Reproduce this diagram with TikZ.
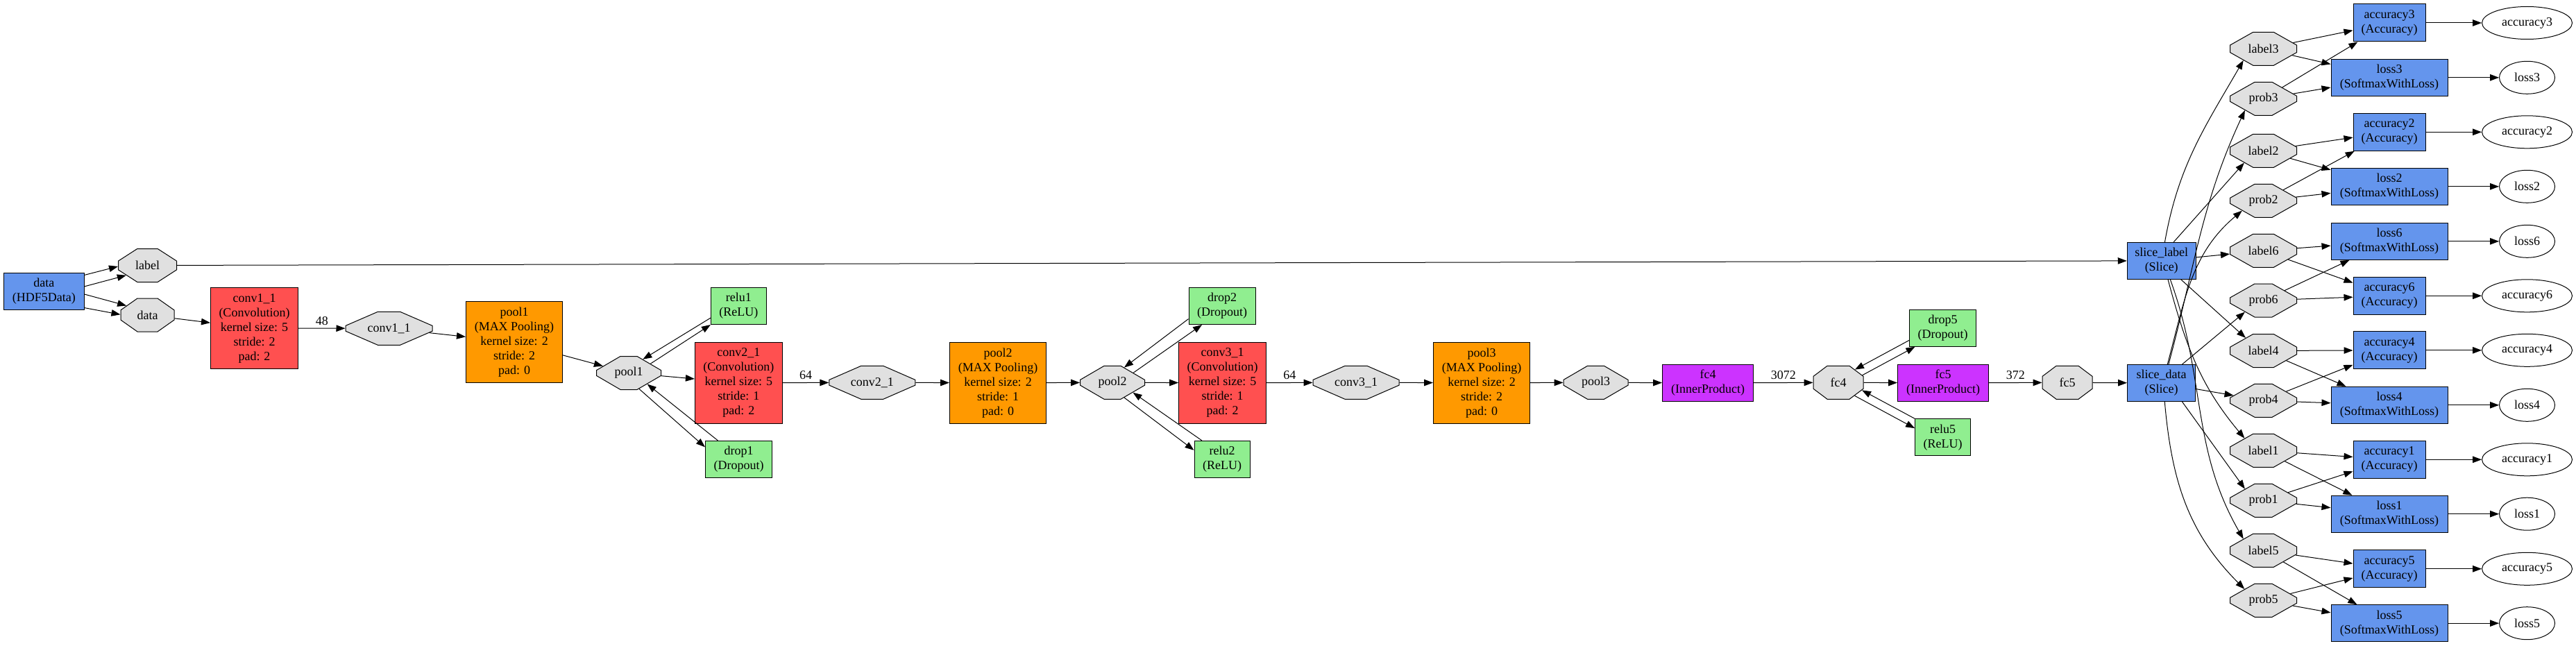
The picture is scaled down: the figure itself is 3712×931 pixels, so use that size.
\documentclass[tikz,border=0pt]{standalone}
\usepackage{fontspec}
\setmainfont{Liberation Serif}
\usetikzlibrary{arrows.meta,shapes.misc,shapes.geometric}

\definecolor{slicecol}{HTML}{6495ED}
\definecolor{convcol}{HTML}{FF5050}
\definecolor{poolcol}{HTML}{FF9900}
\definecolor{neuroncol}{HTML}{90EE90}
\definecolor{ipcol}{HTML}{CC33FF}
\definecolor{blobcol}{HTML}{E0E0E0}

\begin{document}
\begin{tikzpicture}[
  x=1pt, y=-1pt,
  line width=1pt,
  font=\fontsize{18}{21}\selectfont,
  >={Triangle[length=13pt,width=9.5pt]},
  lyr/.style={draw, rectangle, align=center, inner xsep=11pt, inner ysep=0pt, minimum height=53pt},
  bluelyr/.style={lyr, fill=slicecol},
  acclyr/.style={bluelyr, minimum width=104pt, minimum height=54pt},
  losslyr/.style={bluelyr, minimum width=168pt},
  convlyr/.style={lyr, fill=convcol, minimum width=126pt, minimum height=117pt},
  poollyr/.style={lyr, fill=poolcol, minimum width=139pt, minimum height=117pt},
  relulyr/.style={lyr, fill=neuroncol, minimum width=80pt},
  droplyr/.style={lyr, fill=neuroncol, minimum width=96pt},
  iplyr/.style={lyr, fill=ipcol, minimum width=131pt},
  blobnode/.style={chamfered rectangle, draw, fill=blobcol, inner sep=0pt,
    minimum width=#1pt, minimum height=48pt,
    chamfered rectangle xsep=0.24*#1pt, chamfered rectangle ysep=13pt,
    chamfered rectangle angle={atan(0.24*#1/13)}},
  blobnode/.default=96,
  outblob/.style={ellipse, draw, inner sep=0pt, minimum height=47pt, minimum width=#1pt},
  outblob/.default=130
]
\useasboundingbox (0,0) rectangle (3712,931);

% input
\node[bluelyr, minimum width=116pt] (data) at (63.4,420) {data\\(HDF5Data)};
\node[blobnode=84] (label_blob) at (212.5,382.5) {label};
\node[blobnode=77] (data_blob) at (212.5,454) {data};

% feature layers
\node[convlyr] (conv1_1) at (366.5,473) {conv1\_1\\(Convolution)\\kernel size: 5\\stride: 2\\pad: 2};
\node[blobnode=125] (conv1_1_blob) at (560.5,473.3) {conv1\_1};
\node[poollyr] (pool1) at (741,493) {pool1\\(MAX Pooling)\\kernel size: 2\\stride: 2\\pad: 0};
\node[blobnode=93] (pool1_blob) at (906,537.5) {pool1};
\node[relulyr] (relu1) at (1064.4,441) {relu1\\(ReLU)};
\node[convlyr] (conv2_1) at (1064.4,551.7) {conv2\_1\\(Convolution)\\kernel size: 5\\stride: 1\\pad: 2};
\node[droplyr] (drop1) at (1064.5,662) {drop1\\(Dropout)};
\node[blobnode=124] (conv2_1_blob) at (1256.8,551.3) {conv2\_1};
\node[poollyr] (pool2) at (1438,551.7) {pool2\\(MAX Pooling)\\kernel size: 2\\stride: 1\\pad: 0};
\node[blobnode=93] (pool2_blob) at (1603,551.3) {pool2};
\node[droplyr] (drop2) at (1761,441) {drop2\\(Dropout)};
\node[convlyr] (conv3_1) at (1761.7,551.7) {conv3\_1\\(Convolution)\\kernel size: 5\\stride: 1\\pad: 2};
\node[relulyr] (relu2) at (1761,662) {relu2\\(ReLU)};
\node[blobnode=124] (conv3_1_blob) at (1954,551.3) {conv3\_1};
\node[poollyr] (pool3) at (2135,551.7) {pool3\\(MAX Pooling)\\kernel size: 2\\stride: 2\\pad: 0};
\node[blobnode=93] (pool3_blob) at (2299.5,551.3) {pool3};
\node[iplyr] (fc4) at (2461,551.8) {fc4\\(InnerProduct)};
\node[blobnode=72] (fc4_blob) at (2649,551.3) {fc4};
\node[droplyr] (drop5) at (2799.5,472.8) {drop5\\(Dropout)};
\node[iplyr] (fc5) at (2800,551.8) {fc5\\(InnerProduct)};
\node[relulyr] (relu5) at (2799.6,630.3) {relu5\\(ReLU)};
\node[blobnode=72] (fc5_blob) at (2979,551.3) {fc5};
\node[bluelyr, minimum width=98pt] (slice_data) at (3114.5,552) {slice\_data\\(Slice)};
\node[bluelyr, minimum width=98pt] (slice_label) at (3114.7,375.8) {slice\_label\\(Slice)};

% sliced blobs
\node[blobnode] (label3) at (3261.5,70.3) {label3};
\node[blobnode] (prob3) at (3261.5,142.3) {prob3};
\node[blobnode] (label2) at (3261.5,217.3) {label2};
\node[blobnode] (prob2) at (3261.5,289.3) {prob2};
\node[blobnode] (label6) at (3261.5,361.3) {label6};
\node[blobnode] (prob6) at (3261.5,433) {prob6};
\node[blobnode] (label4) at (3261.5,505.5) {label4};
\node[blobnode] (prob4) at (3261.5,577.3) {prob4};
\node[blobnode] (label1) at (3261.5,649.3) {label1};
\node[blobnode] (prob1) at (3261.5,721.3) {prob1};
\node[blobnode] (label5) at (3261.5,793.3) {label5};
\node[blobnode] (prob5) at (3261.5,865.3) {prob5};

% accuracy / loss layers
\node[acclyr] (accuracy3) at (3443,33) {accuracy3\\(Accuracy)};
\node[losslyr] (loss3) at (3443,111.8) {loss3\\(SoftmaxWithLoss)};
\node[acclyr] (accuracy2) at (3443,190.3) {accuracy2\\(Accuracy)};
\node[losslyr] (loss2) at (3443,268.8) {loss2\\(SoftmaxWithLoss)};
\node[losslyr] (loss6) at (3443,347.8) {loss6\\(SoftmaxWithLoss)};
\node[acclyr] (accuracy6) at (3443,426.3) {accuracy6\\(Accuracy)};
\node[acclyr] (accuracy4) at (3443,504.8) {accuracy4\\(Accuracy)};
\node[losslyr] (loss4) at (3443,583.8) {loss4\\(SoftmaxWithLoss)};
\node[acclyr] (accuracy1) at (3443,662.3) {accuracy1\\(Accuracy)};
\node[losslyr] (loss1) at (3443,740.7) {loss1\\(SoftmaxWithLoss)};
\node[acclyr] (accuracy5) at (3443,819.8) {accuracy5\\(Accuracy)};
\node[losslyr] (loss5) at (3443,898.2) {loss5\\(SoftmaxWithLoss)};

% outputs
\node[outblob] (accuracy3_out) at (3641.5,33) {accuracy3};
\node[outblob=80] (loss3_out) at (3641.5,111.8) {loss3};
\node[outblob] (accuracy2_out) at (3641.5,190.3) {accuracy2};
\node[outblob=80] (loss2_out) at (3641.5,268.8) {loss2};
\node[outblob=80] (loss6_out) at (3641.5,347.8) {loss6};
\node[outblob] (accuracy6_out) at (3641.5,426.3) {accuracy6};
\node[outblob] (accuracy4_out) at (3641.5,504.8) {accuracy4};
\node[outblob=80] (loss4_out) at (3641.5,583.8) {loss4};
\node[outblob] (accuracy1_out) at (3641.5,662.3) {accuracy1};
\node[outblob=80] (loss1_out) at (3641.5,740.7) {loss1};
\node[outblob] (accuracy5_out) at (3641.5,819.8) {accuracy5};
\node[outblob=80] (loss5_out) at (3641.5,898.2) {loss5};

% main chain
\draw[->] (data.22) -- (label_blob.182);
\draw[->] (data.7) -- (label_blob.205);
\draw[->] (data.-4) -- (data_blob.156);
\draw[->] (data.-22) -- (data_blob.179);
\draw[->] (label_blob) -- (slice_label);
\draw[->] (data_blob) -- (conv1_1);
\draw[->] (conv1_1) -- node[above, inner sep=4pt] {48} (conv1_1_blob);
\draw[->] (conv1_1_blob) -- (pool1);
\draw[->] (pool1) -- (pool1_blob);
\draw[->] (pool1_blob) -- (conv2_1);
\draw[->] (pool1_blob.23) -- (relu1.south west);
\draw[->] (relu1.203) -- (pool1_blob.44);
\draw[->] (pool1_blob.-57) -- (drop1.160);
\draw[->] (drop1.138) -- (pool1_blob.-31);
\draw[->] (conv2_1) -- node[above, inner sep=4pt] {64} (conv2_1_blob);
\draw[->] (conv2_1_blob) -- (pool2);
\draw[->] (pool2) -- (pool2_blob);
\draw[->] (pool2_blob) -- (conv3_1);
\draw[->] (pool2_blob.25) -- (drop2.223);
\draw[->] (drop2.201) -- (pool2_blob.52);
\draw[->] (pool2_blob.-52) -- (relu2.162);
\draw[->] (relu2.137) -- (pool2_blob.-26);
\draw[->] (conv3_1) -- node[above, inner sep=4pt] {64} (conv3_1_blob);
\draw[->] (conv3_1_blob) -- (pool3);
\draw[->] (pool3) -- (pool3_blob);
\draw[->] (pool3_blob) -- (fc4);
\draw[->] (fc4) -- node[above, inner sep=4pt] {3072} (fc4_blob);
\draw[->] (fc4_blob) -- (fc5);
\draw[->] (fc4_blob.17) -- (drop5.214);
\draw[->] (drop5.200) -- (fc4_blob.38);
\draw[->] (fc4_blob.-39) -- (relu5.162);
\draw[->] (relu5.north west) -- (fc4_blob.-18);
\draw[->] (fc5) -- node[above, inner sep=4pt] {372} (fc5_blob);
\draw[->] (fc5_blob) -- (slice_data);

% slices
\draw[->] (slice_label.80) to[out=80, in=240] (label3.210);
\draw[->] (slice_label.57) -- (label2.212);
\draw[->] (slice_label) -- (label6);
\draw[->] (slice_label.-44) -- (label4.144);
\draw[->] (slice_label.-71) to[out=-75, in=130] (label1.147);
\draw[->] (slice_label.-65) to[out=-70, in=120] (label5.150);
\draw[->] (slice_data.69) to[out=75, in=245] (prob3.212);
\draw[->] (slice_data.72) to[out=75, in=220] (prob2.205);
\draw[->] (slice_data.42) -- (prob6.212);
\draw[->] (slice_data) -- (prob4);
\draw[->] (slice_data.-42) -- (prob1.148);
\draw[->] (slice_data.-80) to[out=-85, in=135] (prob5.149);

% accuracy and loss
\draw[->] (label3) -- (accuracy3);
\draw[->] (prob3) -- (accuracy3);
\draw[->] (label3) -- (loss3);
\draw[->] (prob3) -- (loss3);
\draw[->] (label2) -- (accuracy2);
\draw[->] (prob2) -- (accuracy2);
\draw[->] (label2) -- (loss2);
\draw[->] (prob2) -- (loss2);
\draw[->] (label6) -- (accuracy6);
\draw[->] (prob6) -- (accuracy6);
\draw[->] (label6) -- (loss6);
\draw[->] (prob6) -- (loss6);
\draw[->] (label4) -- (accuracy4);
\draw[->] (prob4) -- (accuracy4);
\draw[->] (label4) -- (loss4);
\draw[->] (prob4) -- (loss4);
\draw[->] (label1) -- (accuracy1);
\draw[->] (prob1) -- (accuracy1);
\draw[->] (label1) -- (loss1);
\draw[->] (prob1) -- (loss1);
\draw[->] (label5) -- (accuracy5);
\draw[->] (prob5) -- (accuracy5);
\draw[->] (label5) -- (loss5);
\draw[->] (prob5) -- (loss5);

\draw[->] (accuracy3) -- (accuracy3_out);
\draw[->] (loss3) -- (loss3_out);
\draw[->] (accuracy2) -- (accuracy2_out);
\draw[->] (loss2) -- (loss2_out);
\draw[->] (loss6) -- (loss6_out);
\draw[->] (accuracy6) -- (accuracy6_out);
\draw[->] (accuracy4) -- (accuracy4_out);
\draw[->] (loss4) -- (loss4_out);
\draw[->] (accuracy1) -- (accuracy1_out);
\draw[->] (loss1) -- (loss1_out);
\draw[->] (accuracy5) -- (accuracy5_out);
\draw[->] (loss5) -- (loss5_out);
\end{tikzpicture}
\end{document}
